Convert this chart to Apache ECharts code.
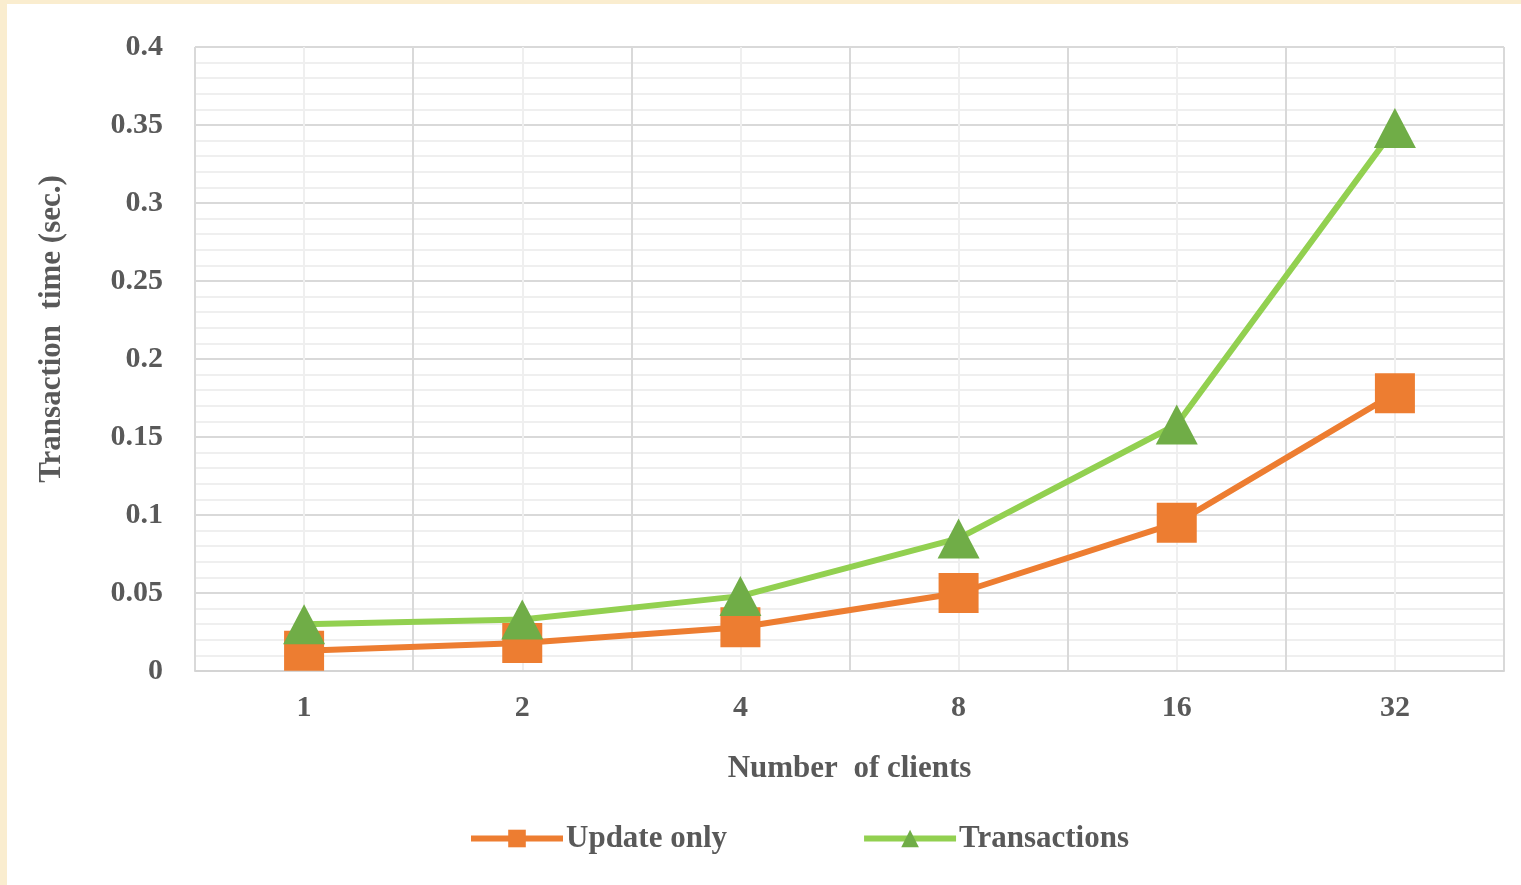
<!DOCTYPE html>
<html>
<head>
<meta charset="utf-8">
<script src="https://cdn.jsdelivr.net/npm/echarts@6/dist/echarts.min.js"></script>
<style>
  html, body { margin: 0; padding: 0; width: 1521px; height: 885px; background: #faedcf; overflow: hidden; }
  #chart { position: absolute; left: 7px; top: 4px; width: 1514px; height: 881px; background: #ffffff; }
</style>
</head>
<body>
<div id="chart"></div>
<script>
// Number of concurrent clients on the x axis
const clients = ['1', '2', '4', '8', '16', '32'];
// Mean transaction time in seconds
const updateOnly = [0.013, 0.018, 0.028, 0.050, 0.095, 0.178];
const transactions = [0.030, 0.033, 0.048, 0.085, 0.158, 0.348];

const textColor = '#595959';
const fontFamily = '"Liberation Serif", "Times New Roman", serif';

const chart = echarts.init(document.getElementById('chart'));
chart.setOption({
  animation: false,
  textStyle: { fontFamily: fontFamily },
  grid: { left: 188, right: 17, top: 43, bottom: 214, containLabel: false },
  legend: {
    left: 456,
    top: 814,
    itemWidth: 92,
    itemHeight: 22,
    itemGap: 134,
    textStyle: { color: textColor, fontSize: 31, fontWeight: 'bold', fontFamily: fontFamily, padding: [0, 0, 0, -2] },
    data: [
      { name: 'Update only', lineStyle: { width: 6 } },
      { name: 'Transactions', lineStyle: { width: 6 } }
    ]
  },
  xAxis: [
    {
      type: 'category',
      data: clients,
      boundaryGap: true,
      name: 'Number  of clients',
      nameLocation: 'middle',
      nameGap: 82,
      nameTextStyle: { color: textColor, fontSize: 31, fontWeight: 'bold', fontFamily: fontFamily },
      axisLine: { show: true, lineStyle: { color: '#d4d4d4', width: 2 } },
      axisTick: { show: false },
      axisLabel: { color: textColor, fontSize: 30, fontWeight: 'bold', margin: 22 },
      splitLine: { show: false }
    },
    {
      // helper axis that only draws the vertical grid: category edges and centres
      type: 'value',
      min: 0,
      max: 12,
      interval: 1,
      position: 'top',
      axisLine: { show: false },
      axisTick: { show: false },
      axisLabel: { show: false },
      splitLine: { show: true, lineStyle: { color: ['#d9d9d9', '#efefef'], width: 2 } }
    }
  ],
  yAxis: {
    type: 'value',
    min: 0,
    max: 0.4,
    interval: 0.05,
    name: 'Transaction  time (sec.)',
    nameLocation: 'middle',
    nameGap: 128,
    nameTextStyle: { color: textColor, fontSize: 31, fontWeight: 'bold', fontFamily: fontFamily, padding: [0, 0, 0, 60] },
    axisLine: { show: false },
    axisTick: { show: false },
    axisLabel: { color: textColor, fontSize: 30, fontWeight: 'bold', margin: 32 },
    splitLine: { show: true, lineStyle: { color: '#d9d9d9', width: 2 } },
    minorTick: { show: false, splitNumber: 5 },
    minorSplitLine: { show: true, lineStyle: { color: '#efefef', width: 2 } }
  },
  series: [
    {
      name: 'Update only',
      type: 'line',
      xAxisIndex: 0,
      data: updateOnly,
      symbol: 'rect',
      symbolSize: 40,
      z: 3,
      lineStyle: { color: '#ed7d31', width: 6 },
      itemStyle: { color: '#ed7d31', borderWidth: 0 }
    },
    {
      name: 'Transactions',
      type: 'line',
      xAxisIndex: 0,
      data: transactions,
      symbol: 'triangle',
      symbolSize: [42, 40],
      z: 4,
      lineStyle: { color: '#92d050', width: 6 },
      itemStyle: { color: '#70ad47', borderWidth: 0 }
    }
  ]
});
</script>
</body>
</html>
